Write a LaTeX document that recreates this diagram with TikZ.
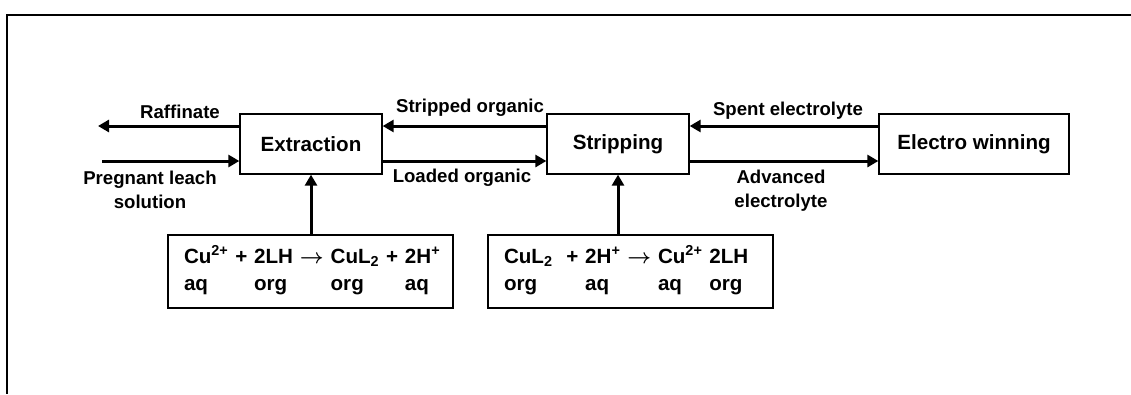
\documentclass[tikz,border=0pt]{standalone}
\usepackage{fontspec}
\setmainfont{Liberation Sans}
\usepackage{tikz}
\usetikzlibrary{arrows.meta}
\tikzset{
  stage/.style={draw, line width=1.3pt, minimum width=142pt, minimum height=60pt, inner sep=0pt, font=\bfseries\fontsize{20.6}{24}\selectfont},
  eqbox/.style={draw, line width=1.3pt, minimum width=285pt, minimum height=73pt, inner xsep=16pt, text width=253pt, align=left, font=\bfseries\boldmath\fontsize{20.6}{27}\selectfont},
  flow/.style={line width=3pt, -{Triangle[length=11pt,width=12pt]}},
  lbl/.style={font=\bfseries\fontsize{18.6}{24}\selectfont, align=center}
}

\begin{document}
\begin{tikzpicture}[x=1pt,y=-1pt]
    \useasboundingbox (0,0) rectangle (1131,394);
    \draw[line width=2pt] (1131,15) -- (7,15) -- (7,394);
    \node[stage] (ext) at (311,144) {Extraction};
    \node[stage] (strip) at (618,144) {Stripping};
    \node[stage, minimum width=190pt] (ew) at (974,144) {Electro winning};
    \node[eqbox] (eqext) at (310.5,271.5) {\begin{tabular}{@{}l@{}l@{}l@{}l@{}}
      Cu\textsuperscript{2+} +\ \null & 2LH $\rightarrow$\ \null & CuL\textsubscript{2} +\ \null & 2H\textsuperscript{+}\\
      aq & org & org & aq
    \end{tabular}};
    \node[eqbox] (eqstrip) at (630.5,271.5) {\begin{tabular}{@{}l@{}l@{}l@{}l@{}}
      CuL\textsubscript{2}\ \ +\ \null & 2H\textsuperscript{+} $\rightarrow$\ \null & Cu\textsuperscript{2+}\ \null & 2LH\\
      org & aq & aq & org
    \end{tabular}};
    \coordinate (raf) at (98,126);
    \coordinate (pls) at (102,161);
    \draw[flow] ([yshift=18pt]ext.west) -- (raf);
    \draw[flow] (pls) -- ([yshift=-17pt]ext.west);
    \draw[flow] ([yshift=18pt]strip.west) -- ([yshift=18pt]ext.east);
    \draw[flow] ([yshift=-17pt]ext.east) -- ([yshift=-17pt]strip.west);
    \draw[flow] ([yshift=18pt]ew.west) -- ([yshift=18pt]strip.east);
    \draw[flow] ([yshift=-17pt]strip.east) -- ([yshift=-17pt]ew.west);
    \draw[flow] (eqext.north -| ext) -- (ext.south);
    \draw[flow] (eqstrip.north -| strip) -- (strip.south);
    \node[lbl] (rafl) at (180,112) {Raffinate};
    \node[lbl] (plsl) at (150,190) {Pregnant leach\\solution};
    \node[lbl] (sorg) at (470,108) {Stripped organic};
    \node[lbl] (lorg) at (462,178) {Loaded organic};
    \node[lbl] (spent) at (788,111) {Spent electrolyte};
    \node[lbl] (adv) at (781,191) {Advanced\\electrolyte};
  \end{tikzpicture}
\end{document}
